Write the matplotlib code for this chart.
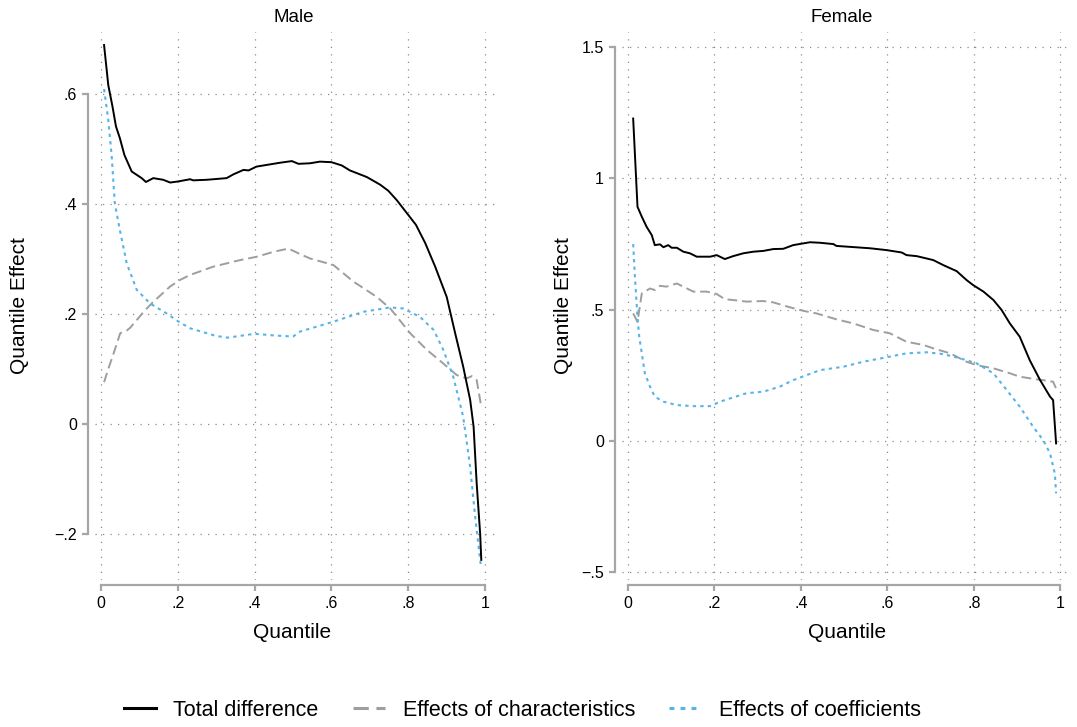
import matplotlib
matplotlib.use("Agg")
import matplotlib.pyplot as plt
import numpy as np

plt.rcParams["font.family"] = ["Liberation Sans", "DejaVu Sans"]

# ---- data ----
# Male
q_m_total = [0.008, 0.019, 0.03, 0.039, 0.049, 0.061, 0.08, 0.106, 0.117, 0.136, 0.162, 0.18, 0.201, 0.232,
             0.24, 0.275, 0.327, 0.345, 0.371, 0.384, 0.405, 0.44, 0.466, 0.497, 0.514, 0.544, 0.57, 0.60,
             0.627, 0.648, 0.692, 0.727, 0.748, 0.77, 0.80, 0.82, 0.844, 0.87, 0.90, 0.922, 0.943, 0.961,
             0.97, 0.978, 0.987, 0.99]
m_total = [0.689, 0.616, 0.577, 0.541, 0.52, 0.489, 0.459, 0.447, 0.440, 0.447, 0.444, 0.439, 0.441, 0.445,
           0.443, 0.444, 0.447, 0.454, 0.462, 0.461, 0.468, 0.472, 0.475, 0.478, 0.473, 0.474, 0.477, 0.476,
           0.47, 0.461, 0.449, 0.435, 0.424, 0.407, 0.38, 0.362, 0.329, 0.286, 0.231, 0.165, 0.104, 0.044,
           -0.005, -0.108, -0.199, -0.247]

q_m_char = [0.008, 0.019, 0.036, 0.05, 0.067, 0.076, 0.115, 0.136, 0.18, 0.206, 0.232, 0.292, 0.362, 0.405,
            0.449, 0.488, 0.518, 0.544, 0.605, 0.657, 0.718, 0.753, 0.805, 0.848, 0.891, 0.926, 0.952,
            0.965, 0.978, 0.99]
m_char = [0.076, 0.10, 0.135, 0.165, 0.17, 0.175, 0.207, 0.222, 0.25, 0.262, 0.271, 0.286, 0.298, 0.304,
          0.313, 0.319, 0.309, 0.301, 0.289, 0.259, 0.231, 0.21, 0.165, 0.135, 0.11, 0.089, 0.083,
          0.087, 0.08, 0.031]

q_m_coef = [0.008, 0.019, 0.028, 0.036, 0.049, 0.067, 0.093, 0.128, 0.171, 0.2, 0.232, 0.3, 0.33, 0.4,
            0.45, 0.5, 0.518, 0.605, 0.683, 0.753, 0.787, 0.83, 0.866, 0.891, 0.917, 0.943, 0.961, 0.974,
            0.987, 0.99]
m_coef = [0.609, 0.553, 0.486, 0.401, 0.353, 0.292, 0.244, 0.219, 0.201, 0.187, 0.174, 0.16, 0.157, 0.164,
          0.161, 0.159, 0.168, 0.186, 0.204, 0.212, 0.210, 0.195, 0.171, 0.135, 0.086, 0.013, -0.078,
          -0.168, -0.247, -0.262]

# Female
q_f_total = [0.012, 0.022, 0.032, 0.043, 0.055, 0.062, 0.074, 0.082, 0.093, 0.101, 0.113, 0.128, 0.143,
             0.159, 0.19, 0.205, 0.224, 0.243, 0.267, 0.29, 0.313, 0.336, 0.359, 0.382, 0.421, 0.444, 0.475,
             0.482, 0.56, 0.598, 0.633, 0.644, 0.668, 0.706, 0.729, 0.76, 0.783, 0.798, 0.822, 0.845, 0.864,
             0.883, 0.906, 0.929, 0.953, 0.976, 0.983, 0.99]
f_total = [1.228, 0.892, 0.854, 0.816, 0.784, 0.746, 0.749, 0.738, 0.746, 0.736, 0.736, 0.721, 0.715,
           0.702, 0.702, 0.708, 0.693, 0.704, 0.715, 0.721, 0.724, 0.731, 0.732, 0.746, 0.757, 0.755, 0.75,
           0.743, 0.734, 0.727, 0.718, 0.708, 0.704, 0.689, 0.67, 0.647, 0.613, 0.594, 0.569, 0.537, 0.499,
           0.448, 0.397, 0.308, 0.232, 0.169, 0.156, -0.009]

q_f_char = [0.012, 0.022, 0.032, 0.051, 0.062, 0.074, 0.089, 0.113, 0.151, 0.182, 0.205, 0.224, 0.243,
            0.274, 0.313, 0.336, 0.375, 0.405, 0.436, 0.483, 0.521, 0.567, 0.606, 0.644, 0.683, 0.706,
            0.745, 0.783, 0.806, 0.845, 0.883, 0.906, 0.945, 0.968, 0.983, 0.99]
f_char = [0.486, 0.454, 0.562, 0.581, 0.575, 0.591, 0.588, 0.6, 0.569, 0.569, 0.56, 0.54, 0.537,
          0.531, 0.533, 0.528, 0.509, 0.496, 0.486, 0.463, 0.448, 0.423, 0.41, 0.378, 0.366, 0.353,
          0.334, 0.302, 0.289, 0.277, 0.258, 0.245, 0.235, 0.23, 0.226, 0.2]

q_f_coef = [0.012, 0.016, 0.022, 0.026, 0.032, 0.039, 0.051, 0.062, 0.082, 0.113, 0.151, 0.19, 0.213,
            0.243, 0.274, 0.313, 0.351, 0.382, 0.413, 0.444, 0.498, 0.544, 0.598, 0.644, 0.691, 0.729,
            0.768, 0.806, 0.845, 0.876, 0.906, 0.937, 0.96, 0.976, 0.987, 0.99]
f_coef = [0.75, 0.626, 0.473, 0.397, 0.334, 0.258, 0.207, 0.169, 0.15, 0.137, 0.133, 0.133, 0.15,
          0.166, 0.182, 0.188, 0.207, 0.232, 0.251, 0.27, 0.283, 0.302, 0.319, 0.334, 0.338, 0.331,
          0.315, 0.296, 0.258, 0.194, 0.131, 0.054, 0.004, -0.047, -0.123, -0.199]

panels = [
    ("Male", q_m_total, m_total, q_m_char, m_char, q_m_coef, m_coef,
     [-0.2, 0, 0.2, 0.4, 0.6], ["\u2212.2", "0", ".2", ".4", ".6"], (-0.2836, 0.7127)),
    ("Female", q_f_total, f_total, q_f_char, f_char, q_f_coef, f_coef,
     [-0.5, 0, 0.5, 1, 1.5], ["\u2212.5", "0", ".5", "1", "1.5"], (-0.529, 1.5575)),
]
x_ticks = [0, 0.2, 0.4, 0.6, 0.8, 1]
x_labels = ["0", ".2", ".4", ".6", ".8", "1"]

axis_grey = "#a6a6a6"
blue = "#56b4e9"

fig = plt.figure(figsize=(10.77, 7.27), dpi=100)
ax_pos = [[0.0882, 0.2022, 0.3733, 0.7538], [0.5775, 0.2022, 0.4178, 0.7538]]
title_x = [294 / 1077, 842 / 1077]
ylabel_x = [-0.1866, -0.131]
xlims = [(-0.0156, 1.031), (-0.0139, 1.0266)]

for i, p in enumerate(panels):
    title, qt, vt, qc, vc, qk, vk, yt, ylab, ylim = p
    ax = fig.add_axes(ax_pos[i])
    l1, = ax.plot(qt, vt, color="black", lw=1.4, label="Total difference", zorder=4)
    l2, = ax.plot(qc, vc, color="#9e9e9e", lw=1.4, ls=(0, (5, 2.5)), label="Effects of characteristics", zorder=3)
    l3, = ax.plot(qk, vk, color=blue, lw=1.5, ls=(0, (1.6, 2)), label="Effects of coefficients", zorder=3)

    ax.set_xlim(*xlims[i])
    ax.set_ylim(*ylim)
    ax.set_xticks(x_ticks)
    ax.set_xticklabels(x_labels)
    ax.set_yticks(yt)
    ax.set_yticklabels(ylab)
    ax.grid(True, color="#8c8c8c", lw=0.9, ls=(0, (1, 5)))

    for s in ["top", "right"]:
        ax.spines[s].set_visible(False)
    ax.spines["left"].set_position(("outward", 5))
    ax.spines["bottom"].set_position(("outward", 3.6))
    ax.spines["left"].set_bounds(yt[0], yt[-1])
    ax.spines["bottom"].set_bounds(0, 1)
    for s in ["left", "bottom"]:
        ax.spines[s].set_color(axis_grey)
        ax.spines[s].set_linewidth(1.6)
    ax.tick_params(axis="both", colors=axis_grey, length=4, width=1.6, labelcolor="black",
                   labelsize=11.5, pad=4)

    ax.set_xlabel("Quantile", fontsize=15, va="center")
    ax.xaxis.set_label_coords(0.49 if i == 0 else 0.5, -0.0949)
    ax.set_ylabel("Quantile Effect", fontsize=15, va="center")
    ax.yaxis.set_label_coords(ylabel_x[i], 0.5)
    fig.text(title_x[i], 1 - 17 / 727, title, fontsize=13.5, ha="center", va="center")

leg = fig.legend(handles=[l1, l2, l3], loc="center", bbox_to_anchor=(0.485, 0.023), ncol=3, frameon=False,
                 fontsize=15.5, handlelength=1.5, handletextpad=0.8, columnspacing=1.6)
for h in leg.legend_handles:
    h.set_linewidth(2.2)

fig.savefig("out.png", dpi=100)
